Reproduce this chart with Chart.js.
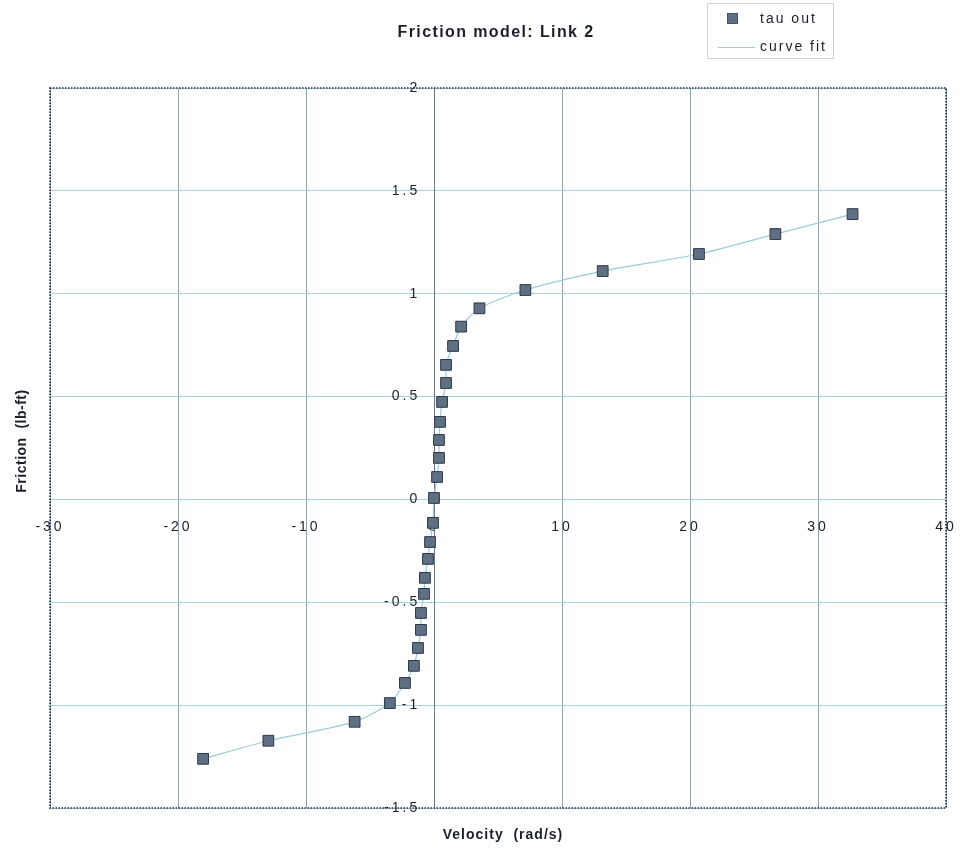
<!DOCTYPE html>
<html>
<head>
<meta charset="utf-8">
<script src="https://cdn.jsdelivr.net/npm/chart.js@4/dist/chart.umd.min.js"></script>
<style>
  html, body { margin: 0; padding: 0; background: #ffffff; }
  #wrap { width: 962px; height: 852px; position: relative; }
</style>
</head>
<body>
<div id="wrap"><canvas id="c" width="962" height="852"></canvas></div>
<script>
// Measured friction torque versus joint velocity, link 2
const velocity = [
  -18.04, -12.94, -6.2, -3.45, -2.27, -1.57, -1.25, -1.02, -1.02, -0.78, -0.71, -0.47, -0.31, -0.08,
  0.0, 0.24, 0.39, 0.39, 0.47, 0.63, 0.94, 0.94, 1.49, 2.12, 3.55, 7.14, 13.18, 20.7, 26.67, 32.7
];
const tauOut = [
  -1.261, -1.173, -1.081, -0.99, -0.892, -0.809, -0.722, -0.634, -0.552, -0.459, -0.381, -0.289, -0.207, -0.114,
  0.007, 0.109, 0.202, 0.289, 0.377, 0.474, 0.566, 0.654, 0.746, 0.84, 0.929, 1.018, 1.11, 1.193, 1.29, 1.387
];
// Fitted friction curve through the same velocities
const curveFit = tauOut.slice();

const xTicks = [-30, -20, -10, 0, 10, 20, 30, 40];
const yTicks = [-1.5, -1, -0.5, 0, 0.5, 1, 1.5, 2];

const chartTitle = 'Friction model: Link 2';
const xTitle = 'Velocity  (rad/s)';
const yTitle = 'Friction  (lb-ft)';
const seriesNames = ['tau out', 'curve fit'];

const markerFill = '#5f7084';
const markerEdge = '#2b3747';
const fitColor = '#9ccbd4';
const textColor = '#1a1f2a';

const pts = velocity.map((v, i) => ({ x: v, y: tauOut[i] }));
const fitPts = velocity.map((v, i) => ({ x: v, y: curveFit[i] }));

// Wider letter spacing for the axis text
const spacing = {
  id: 'spacing',
  beforeInit(chart) { chart.ctx.letterSpacing = '3px'; },
  beforeUpdate(chart) { chart.ctx.letterSpacing = '3px'; },
  beforeDraw(chart) { chart.ctx.letterSpacing = '3px'; }
};

// Centred axes should not push the plot area inwards
function noEdgePadding(scale) {
  scale.paddingLeft = 0;
  scale.paddingRight = 0;
  scale.paddingTop = 0;
  scale.paddingBottom = 0;
}

// Dotted frame around the plot area, titles and legend box
const decor = {
  id: 'decor',
  afterDatasetsDraw(chart) {
    const { ctx, chartArea: a } = chart;
    ctx.save();
    ctx.strokeStyle = '#1f2a44';
    ctx.lineWidth = 1.6;
    ctx.setLineDash([1.5, 1.5]);
    ctx.strokeRect(a.left, a.top, a.right - a.left, a.bottom - a.top);
    ctx.restore();
  },
  afterDraw(chart) {
    const { ctx } = chart;
    ctx.save();
    ctx.fillStyle = textColor;
    ctx.textAlign = 'center';
    ctx.textBaseline = 'middle';
    ctx.letterSpacing = '1.4px';
    ctx.font = 'bold 16px "Liberation Sans", Arial, sans-serif';
    ctx.fillText(chartTitle, 496, 33);
    ctx.letterSpacing = '1px';
    ctx.font = 'bold 14px "Liberation Sans", Arial, sans-serif';
    ctx.fillText(xTitle, 503, 835);
    ctx.translate(22, 441);
    ctx.rotate(-Math.PI / 2);
    ctx.letterSpacing = '0.5px';
    ctx.font = 'bold 14px "Liberation Sans", Arial, sans-serif';
    ctx.fillText(yTitle, 0, 0);
    ctx.restore();

    // legend
    ctx.save();
    ctx.fillStyle = '#ffffff';
    ctx.fillRect(707, 3, 126, 55);
    ctx.strokeStyle = '#cfd3d6';
    ctx.lineWidth = 1;
    ctx.strokeRect(707.5, 3.5, 126, 55);
    ctx.fillStyle = markerFill;
    ctx.fillRect(727, 13, 11, 11);
    ctx.strokeStyle = markerEdge;
    ctx.setLineDash([1, 1]);
    ctx.strokeRect(727.5, 13.5, 10, 10);
    ctx.setLineDash([]);
    ctx.strokeStyle = fitColor;
    ctx.beginPath();
    ctx.moveTo(718, 47.5);
    ctx.lineTo(755, 47.5);
    ctx.stroke();
    ctx.fillStyle = textColor;
    ctx.letterSpacing = '2px';
    ctx.font = '14px "Liberation Sans", Arial, sans-serif';
    ctx.textAlign = 'left';
    ctx.textBaseline = 'middle';
    ctx.fillText(seriesNames[0], 760, 19);
    ctx.fillText(seriesNames[1], 760, 47);
    ctx.restore();
  }
};

new Chart(document.getElementById('c'), {
  type: 'scatter',
  data: {
    datasets: [
      {
        label: seriesNames[1],
        data: fitPts,
        showLine: true,
        borderColor: fitColor,
        borderWidth: 1.2,
        tension: 0.25,
        pointRadius: 0,
        order: 2
      },
      {
        label: seriesNames[0],
        data: pts,
        showLine: false,
        pointStyle: 'rect',
        pointRadius: 7.6,
        backgroundColor: markerFill,
        borderColor: markerEdge,
        borderWidth: 1,
        order: 1
      }
    ]
  },
  options: {
    responsive: false,
    animation: false,
    events: [],
    layout: { padding: { left: 50, right: 16, top: 88, bottom: 44 } },
    plugins: {
      legend: { display: false },
      title: { display: false },
      tooltip: { enabled: false }
    },
    scales: {
      x: {
        type: 'linear',
        position: { y: 0 },
        min: xTicks[0],
        max: xTicks[xTicks.length - 1],
        afterBuildTicks(scale) { scale.ticks = xTicks.map(v => ({ value: v })); },
        afterFit: noEdgePadding,
        grid: { color: '#8fa2ae', lineWidth: 1, drawTicks: false },
        border: { color: '#a9d3dc', width: 1 },
        ticks: {
          padding: 19,
          color: textColor,
          font: { family: '"Liberation Sans", Arial, sans-serif', size: 14 },
          maxRotation: 0,
          autoSkip: false,
          callback: v => String(v)
        }
      },
      y: {
        type: 'linear',
        position: { x: 0 },
        min: yTicks[0],
        max: yTicks[yTicks.length - 1],
        afterBuildTicks(scale) { scale.ticks = yTicks.map(v => ({ value: v })); },
        afterFit: noEdgePadding,
        grid: { color: '#a9d3dc', lineWidth: 1, drawTicks: false },
        border: { color: '#6b7580', width: 1 },
        ticks: {
          color: textColor,
          font: { family: '"Liberation Sans", Arial, sans-serif', size: 14 },
          autoSkip: false,
          // trailing gap keeps the labels clear of the centred axis line
          callback: v => String(v) + '  '
        }
      }
    }
  },
  plugins: [spacing, decor]
});
</script>
</body>
</html>
